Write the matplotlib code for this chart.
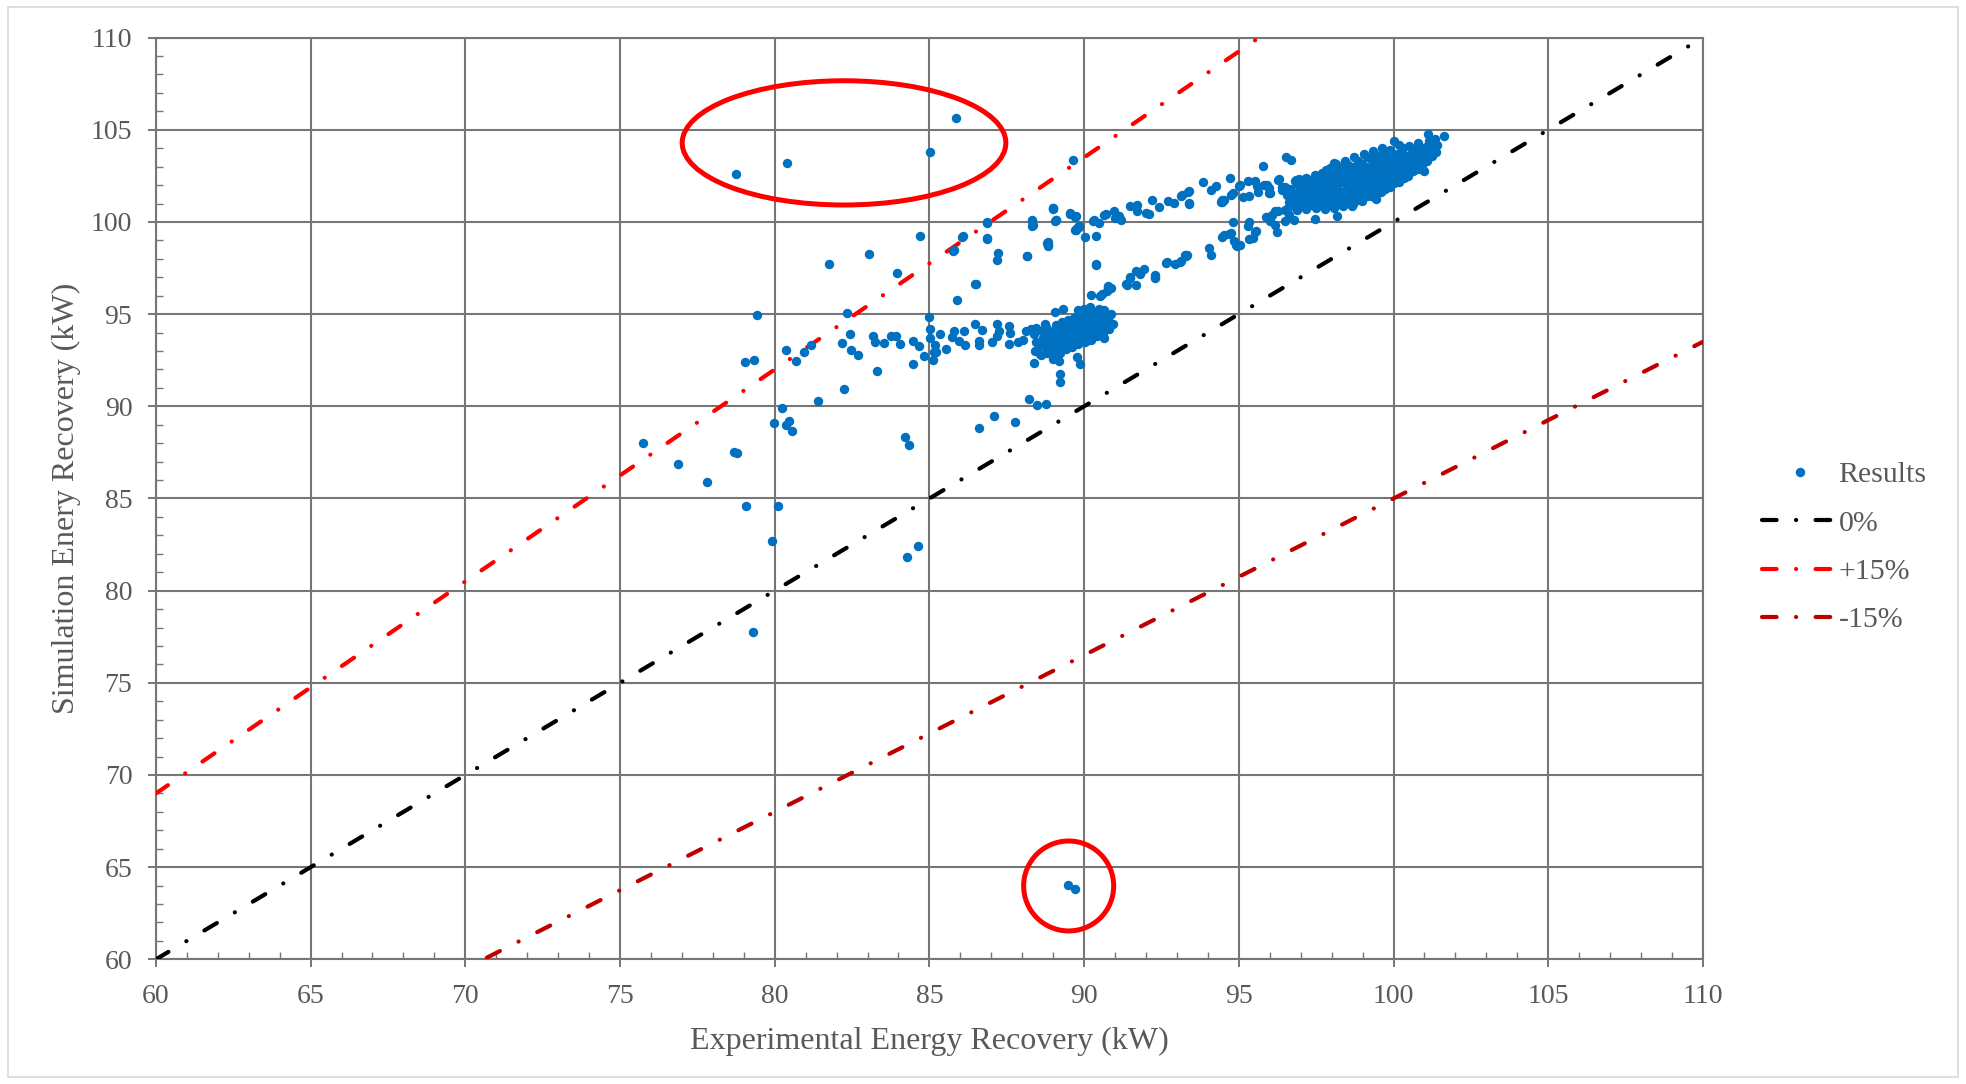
import numpy as np
import matplotlib
matplotlib.use("Agg")
import matplotlib.pyplot as plt
from matplotlib.patches import Ellipse, Rectangle
from matplotlib.lines import Line2D

# =========================
# Data
# =========================
# isolated points / sparse outliers
outlier_x = [78.75, 80.41, 85.03, 85.85, 89.63, 89.48, 89.72,
             75.75, 76.89, 77.82, 78.68, 78.78, 79.05, 79.32, 79.44, 79.31,
             79.08, 79.91, 80.12, 79.97, 80.23, 80.45, 80.37, 80.56,
             80.35, 80.69, 80.96, 81.16, 81.41, 81.76, 82.16, 82.25, 82.33,
             82.44, 82.48, 82.70, 83.04, 83.18, 83.25, 83.31, 83.52, 83.76,
             83.92, 83.94, 84.04, 84.22, 84.35, 84.27, 84.63, 84.47, 84.66,
             84.47, 84.82, 84.70]
outlier_y = [102.58, 103.20, 103.82, 105.65, 103.36, 64.02, 63.84,
             88.01, 86.86, 85.90, 87.53, 87.49, 92.38, 92.49, 94.98, 77.76,
             84.58, 82.71, 84.60, 89.10, 89.89, 89.22, 88.99, 88.68,
             93.07, 92.44, 92.96, 93.34, 90.27, 97.73, 93.41, 90.94, 95.07,
             93.90, 93.05, 92.78, 98.25, 93.84, 93.47, 91.90, 93.43, 93.81,
             93.79, 97.22, 93.38, 88.34, 87.91, 81.84, 82.44, 93.52, 93.29,
             92.27, 92.74, 99.26]

# tail of the lower cluster (85-88.8 kW) and scattered points around it
tail_x = [85.00, 85.01, 85.01, 85.17, 85.16, 85.12, 85.34, 85.52, 85.22,
          85.73, 85.81, 85.95, 86.13, 86.16, 86.48, 86.59, 86.61, 86.70,
          87.02, 87.20, 87.24, 87.20, 87.56, 87.60, 87.56, 87.85, 88.01,
          88.12, 88.28, 88.44, 88.39, 88.58, 88.98, 89.19, 89.22, 89.22,
          89.76, 89.86, 90.65, 90.94, 89.06, 89.33, 88.74,
          88.23, 88.47, 88.78, 87.09, 86.61, 87.76,
          85.89, 86.48, 86.49, 87.21, 87.19, 88.15, 85.75, 86.04, 86.85,
          86.85, 85.78, 86.87, 86.07, 86.87, 88.14]
tail_y = [94.86, 94.21, 93.70, 93.34, 92.92, 92.51, 93.90, 93.09, 92.93,
          93.77, 94.10, 93.56, 94.10, 93.34, 94.49, 93.56, 93.32, 94.13,
          93.47, 94.46, 94.10, 93.83, 94.37, 94.00, 93.38, 93.47, 93.59,
          94.10, 94.19, 94.24, 92.33, 92.83, 92.56, 92.47, 91.75, 91.30,
          92.69, 92.29, 93.70, 94.46, 95.09, 95.27, 94.49,
          90.40, 90.09, 90.14, 89.46, 88.81, 89.15,
          95.78, 96.61, 96.63, 98.32, 97.96, 98.18, 98.45, 99.17, 99.96,
          99.10, 98.46, 99.98, 99.22, 99.15, 98.18]

# dense cluster around 90 kW
cluster1_x = [
    88.42, 88.45, 88.38,
    88.61, 88.57, 88.66, 88.63,
    88.81, 88.78, 88.85, 88.83, 88.76,
    89.02, 88.97, 89.05, 89.01, 89.08,
    89.21, 89.18, 89.24, 89.16, 89.22, 89.27,
    89.41, 89.38, 89.44, 89.36, 89.43, 89.47,
    89.61, 89.58, 89.64, 89.56, 89.62, 89.67,
    89.81, 89.78, 89.84, 89.76, 89.83, 89.87, 89.79,
    90.02, 89.98, 90.05, 89.96, 90.03, 90.07, 89.99,
    90.21, 90.18, 90.24, 90.16, 90.22, 90.27, 90.19,
    90.41, 90.38, 90.44, 90.36, 90.43, 90.47,
    90.61, 90.58, 90.64, 90.56, 90.63,
    90.79, 90.83, 90.76, 90.86,
]
cluster1_y = [
    93.0, 93.5, 93.9,
    92.8, 93.3, 93.7, 94.1,
    92.9, 93.2, 93.6, 94.0, 94.3,
    93.0, 93.4, 93.7, 94.1, 94.4,
    92.9, 93.3, 93.6, 93.9, 94.2, 94.6,
    93.1, 93.5, 93.8, 94.1, 94.4, 94.7,
    93.2, 93.6, 93.9, 94.2, 94.5, 94.8,
    93.4, 93.7, 94.0, 94.3, 94.6, 94.9, 95.2,
    93.5, 93.8, 94.1, 94.4, 94.7, 95.0, 95.3,
    93.6, 93.9, 94.2, 94.5, 94.8, 95.1, 95.4,
    93.8, 94.1, 94.4, 94.7, 95.0, 95.3,
    94.0, 94.3, 94.6, 94.9, 95.2,
    94.2, 94.5, 94.8, 95.0,
]

# two bands joining the clusters (90-97 kW)
band_x = [90.38, 90.78, 90.75, 91.37, 91.47, 91.69, 91.94, 91.67, 92.29,
          92.66, 92.94, 93.12, 93.30, 94.03, 94.10, 94.46, 94.53, 94.76,
          94.85, 94.95, 95.05, 94.81, 95.32, 95.29, 95.56, 95.45, 95.34,
          95.91, 96.08, 96.18, 96.02, 96.18, 96.22, 96.50, 96.61, 96.77,
          97.47, 98.18, 93.27, 93.10, 90.51, 90.59, 90.76, 90.86, 90.23,
          91.34, 91.48, 91.80, 92.29, 92.30, 92.68, 93.32, 90.37,
          89.00, 89.06, 89.54, 89.71, 89.76, 89.82, 90.03, 89.01, 89.55,
          89.75, 90.32, 88.33, 88.34, 89.10, 89.84, 89.73, 88.83, 88.84,
          88.32, 88.32, 88.98, 89.08, 88.81, 88.82, 89.71, 89.82, 90.38,
          90.30, 90.48, 90.65, 90.72, 90.97, 91.13, 91.18, 91.00, 91.47,
          91.72, 91.72, 91.99, 92.10, 92.20, 92.42, 92.71, 92.90, 93.12,
          93.17, 93.39, 93.39, 93.84, 94.09, 94.25, 94.44, 94.52, 94.73,
          94.76, 95.00, 95.05, 95.30, 95.32, 95.53, 95.59, 95.62, 95.81,
          95.97, 96.00, 95.78, 96.29, 96.53, 96.67, 96.40, 96.85, 96.88,
          96.96, 97.15, 93.37, 93.39, 94.41, 94.45, 94.80, 95.15, 95.91,
          95.98, 96.26, 96.39, 96.50, 96.82, 96.89, 96.71, 94.67, 94.90,
          95.51, 95.87, 96.28, 96.50, 97.70, 98.08]
band_y = [97.69, 96.46, 96.24, 96.60, 96.96, 97.32, 97.47, 96.60, 97.00,
          97.78, 97.72, 97.87, 98.14, 98.59, 98.23, 99.17, 99.31, 99.40,
          98.95, 98.68, 98.77, 100.00, 100.00, 99.76, 99.49, 99.13, 99.10,
          100.25, 100.40, 100.58, 100.04, 99.86, 99.46, 100.67, 100.40, 100.13,
          100.18, 100.31, 98.21, 97.84, 96.00, 96.08, 96.53, 96.44, 96.05,
          96.62, 96.99, 97.17, 97.13, 96.95, 97.83, 98.19, 97.74,
          100.72, 100.07, 100.43, 100.25, 99.67, 99.76, 99.20, 100.78, 100.49,
          100.31, 100.13, 100.13, 99.84, 100.09, 99.76, 99.58, 98.91, 98.75,
          100.05, 99.78, 100.74, 100.09, 98.88, 98.70, 99.55, 99.73, 99.26,
          100.07, 99.95, 100.40, 100.43, 100.58, 100.31, 100.13, 100.20, 100.85,
          100.94, 100.58, 100.49, 100.43, 101.21, 100.80, 101.12, 101.03, 101.39,
          101.48, 101.66, 100.98, 102.15, 101.75, 101.93, 101.08, 101.21, 102.39,
          101.48, 101.93, 101.99, 102.24, 101.39, 102.24, 101.93, 101.63, 102.03,
          101.85, 101.58, 103.02, 102.31, 103.52, 103.34, 101.75, 102.26, 102.12,
          102.33, 102.21, 101.65, 101.03, 101.09, 101.18, 101.59, 101.36, 102.03,
          101.56, 102.28, 101.87, 101.90, 102.23, 102.05, 101.45, 99.33, 98.75,
          99.47, 100.27, 100.60, 100.05, 102.63, 103.22]

# dense cluster around 97-102 kW
cluster2_x = [
    96.58, 96.62, 96.55, 96.65,
    96.88, 96.92, 96.85, 96.95, 96.90,
    97.18, 97.22, 97.15, 97.25, 97.20, 97.17,
    97.48, 97.52, 97.45, 97.55, 97.50, 97.47,
    97.78, 97.82, 97.75, 97.85, 97.80, 97.77, 97.83,
    98.08, 98.12, 98.05, 98.15, 98.10, 98.07, 98.13,
    98.38, 98.42, 98.35, 98.45, 98.40, 98.37, 98.43,
    98.68, 98.72, 98.65, 98.75, 98.70, 98.67, 98.73,
    98.98, 99.02, 98.95, 99.05, 99.00, 98.97, 99.03,
    99.28, 99.32, 99.25, 99.35, 99.30, 99.27, 99.33,
    99.58, 99.62, 99.55, 99.65, 99.60, 99.57, 99.63,
    99.88, 99.92, 99.85, 99.95, 99.90, 99.87,
    100.18, 100.22, 100.15, 100.25, 100.20, 100.17,
    100.48, 100.52, 100.45, 100.55, 100.50,
    100.78, 100.82, 100.75, 100.85, 100.80,
    101.08, 101.12, 101.05, 101.15,
    101.38, 101.42, 101.35,
    96.73, 96.75, 96.70,
    97.03, 97.05, 97.00, 97.07,
    97.33, 97.35, 97.30, 97.37, 97.32,
    97.63, 97.65, 97.60, 97.67, 97.62,
    97.93, 97.95, 97.90, 97.97, 97.92, 97.94,
    98.23, 98.25, 98.20, 98.27, 98.22, 98.24,
    98.53, 98.55, 98.50, 98.57, 98.52, 98.54,
    98.83, 98.85, 98.80, 98.87, 98.82, 98.84,
    99.13, 99.15, 99.10, 99.17, 99.12, 99.14,
    99.43, 99.45, 99.40, 99.47, 99.42, 99.44,
    99.73, 99.75, 99.70, 99.77, 99.72, 99.74,
    100.03, 100.05, 100.00, 100.07, 100.02,
    100.33, 100.35, 100.30, 100.37, 100.32,
    100.63, 100.65, 100.60, 100.67,
    100.93, 100.95, 100.90,
    101.23, 101.25,
    99.44, 98.65, 100.02, 101.00, 101.11, 101.62, 101.29,
]
cluster2_y = [
    100.75, 101.10, 101.45, 101.80,
    100.65, 101.00, 101.35, 101.70, 102.05,
    100.70, 101.05, 101.40, 101.75, 102.10, 102.40,
    100.75, 101.10, 101.45, 101.80, 102.15, 102.55,
    100.70, 101.05, 101.40, 101.75, 102.10, 102.45, 102.80,
    100.75, 101.15, 101.55, 101.95, 102.35, 102.75, 103.15,
    100.85, 101.25, 101.65, 102.05, 102.45, 102.85, 103.30,
    101.00, 101.40, 101.80, 102.20, 102.60, 103.00, 103.50,
    101.15, 101.55, 101.95, 102.35, 102.75, 103.15, 103.70,
    101.40, 101.80, 102.20, 102.60, 103.00, 103.40, 103.85,
    101.60, 102.00, 102.40, 102.80, 103.20, 103.60, 104.00,
    101.90, 102.30, 102.70, 103.10, 103.50, 103.90,
    102.15, 102.55, 102.95, 103.35, 103.75, 104.20,
    102.50, 102.90, 103.30, 103.70, 104.10,
    102.85, 103.25, 103.60, 103.95, 104.30,
    103.30, 103.70, 104.05, 104.40,
    103.80, 104.20, 104.50,
    100.90, 101.30, 101.65,
    100.85, 101.20, 101.55, 101.90,
    100.90, 101.25, 101.60, 101.95, 102.30,
    100.90, 101.25, 101.60, 101.95, 102.35,
    100.90, 101.30, 101.70, 102.10, 102.50, 102.90,
    100.95, 101.35, 101.75, 102.15, 102.55, 103.00,
    101.05, 101.45, 101.85, 102.25, 102.65, 103.10,
    101.20, 101.60, 102.00, 102.40, 102.80, 103.30,
    101.40, 101.80, 102.20, 102.60, 103.00, 103.50,
    101.60, 102.00, 102.40, 102.80, 103.20, 103.65,
    101.80, 102.20, 102.60, 103.00, 103.40, 103.80,
    102.10, 102.50, 102.90, 103.30, 103.70,
    102.40, 102.80, 103.20, 103.60, 104.00,
    102.75, 103.15, 103.55, 103.95,
    103.10, 103.50, 103.90,
    103.60, 104.00,
    101.27, 100.87, 104.40, 102.74, 104.76, 104.67, 103.86,
]

# reference lines (end points)
line_x = [60, 110]
zero_y = [60, 110]
plus15_y = [69, 126.5]
minus15_y = [51, 93.5]

# highlighted regions (centre x, centre y, width, height)
highlight_top = (82.24, 104.29, 10.46, 6.74)
highlight_bottom = (89.50, 63.98, 2.91, 4.88)

exp_kw = np.array(outlier_x + tail_x + cluster1_x + band_x + cluster2_x)
sim_kw = np.array(outlier_y + tail_y + cluster1_y + band_y + cluster2_y)

# =========================
# Style
# =========================
text_grey = "#595959"
grid_grey = "#767676"
plt.rcParams.update({
    "font.family": ["Liberation Serif", "DejaVu Serif"],
    "font.size": 20,
    "text.color": text_grey,
    "axes.labelcolor": text_grey,
    "xtick.color": grid_grey,
    "ytick.color": grid_grey,
    "xtick.labelcolor": text_grey,
    "ytick.labelcolor": text_grey,
    "lines.scale_dashes": False,
})

fig = plt.figure(figsize=(19.66, 10.84), dpi=100)
ax = fig.add_axes([0.0793, 0.1150, 0.7869, 0.8503])

# reference lines
lw_ref = 3.0
dash = (0, (10.5, 15.0, 0.1, 15.0))
ax.plot(line_x, zero_y, color="black", lw=lw_ref, ls=dash, dash_capstyle="round", zorder=3)
ax.plot(line_x, plus15_y, color="#FF0000", lw=lw_ref, ls=dash, dash_capstyle="round", zorder=3)
ax.plot(line_x, minus15_y, color="#C00000", lw=lw_ref, ls=dash, dash_capstyle="round", zorder=3)

ax.scatter(exp_kw, sim_kw, s=46, color="#0070C0", linewidths=0, zorder=4)

for cx, cy, w, h in [highlight_top, highlight_bottom]:
    ax.add_patch(Ellipse((cx, cy), w, h, fill=False, edgecolor="#FF0000", lw=3.6, zorder=5))

ax.set_xlim(60, 110)
ax.set_ylim(60, 110)
ax.set_xticks(np.arange(60, 111, 5))
ax.set_yticks(np.arange(60, 111, 5))
ax.set_xticks(np.arange(60, 111, 1), minor=True)
ax.set_yticks(np.arange(60, 111, 1), minor=True)
ax.tick_params(which="major", direction="out", length=6, width=1.4, labelsize=20)
ax.tick_params(axis="x", which="major", pad=12)
ax.tick_params(axis="y", which="major", pad=11)
ax.tick_params(which="minor", direction="in", length=5, width=1.0)
ax.grid(which="major", color=grid_grey, lw=1.5)
ax.set_axisbelow(True)
for s in ax.spines.values():
    s.set_color(grid_grey)
    s.set_linewidth(1.5)

ax.set_xlabel("Experimental Energy Recovery (kW)", fontsize=23, labelpad=13)
ax.set_ylabel("Simulation Enery Recovery (kW)", fontsize=23, labelpad=7)

leg_dash = (0, (10.5, 14.0, 0.1, 14.0, 10.5, 100))
handles = [
    Line2D([], [], ls="none", marker="o", ms=6.8, color="#0070C0", markeredgewidth=0),
    Line2D([], [], color="black", lw=lw_ref, ls=leg_dash, dash_capstyle="round"),
    Line2D([], [], color="#FF0000", lw=lw_ref, ls=leg_dash, dash_capstyle="round"),
    Line2D([], [], color="#C00000", lw=lw_ref, ls=leg_dash, dash_capstyle="round"),
]
fig.legend(handles, ["Results", "0%", "+15%", "-15%"],
           loc="center left", bbox_to_anchor=(0.8825, 0.495),
           frameon=False, fontsize=21.5, handlelength=2.55,
           handletextpad=0.02, labelspacing=0.72)

# light chart-area border
fig.add_artist(Rectangle((0.004, 0.006), 0.992, 0.988, transform=fig.transFigure,
                         fill=False, edgecolor="#D9D9D9", lw=1.2))

fig.savefig("out.png", dpi=100)
